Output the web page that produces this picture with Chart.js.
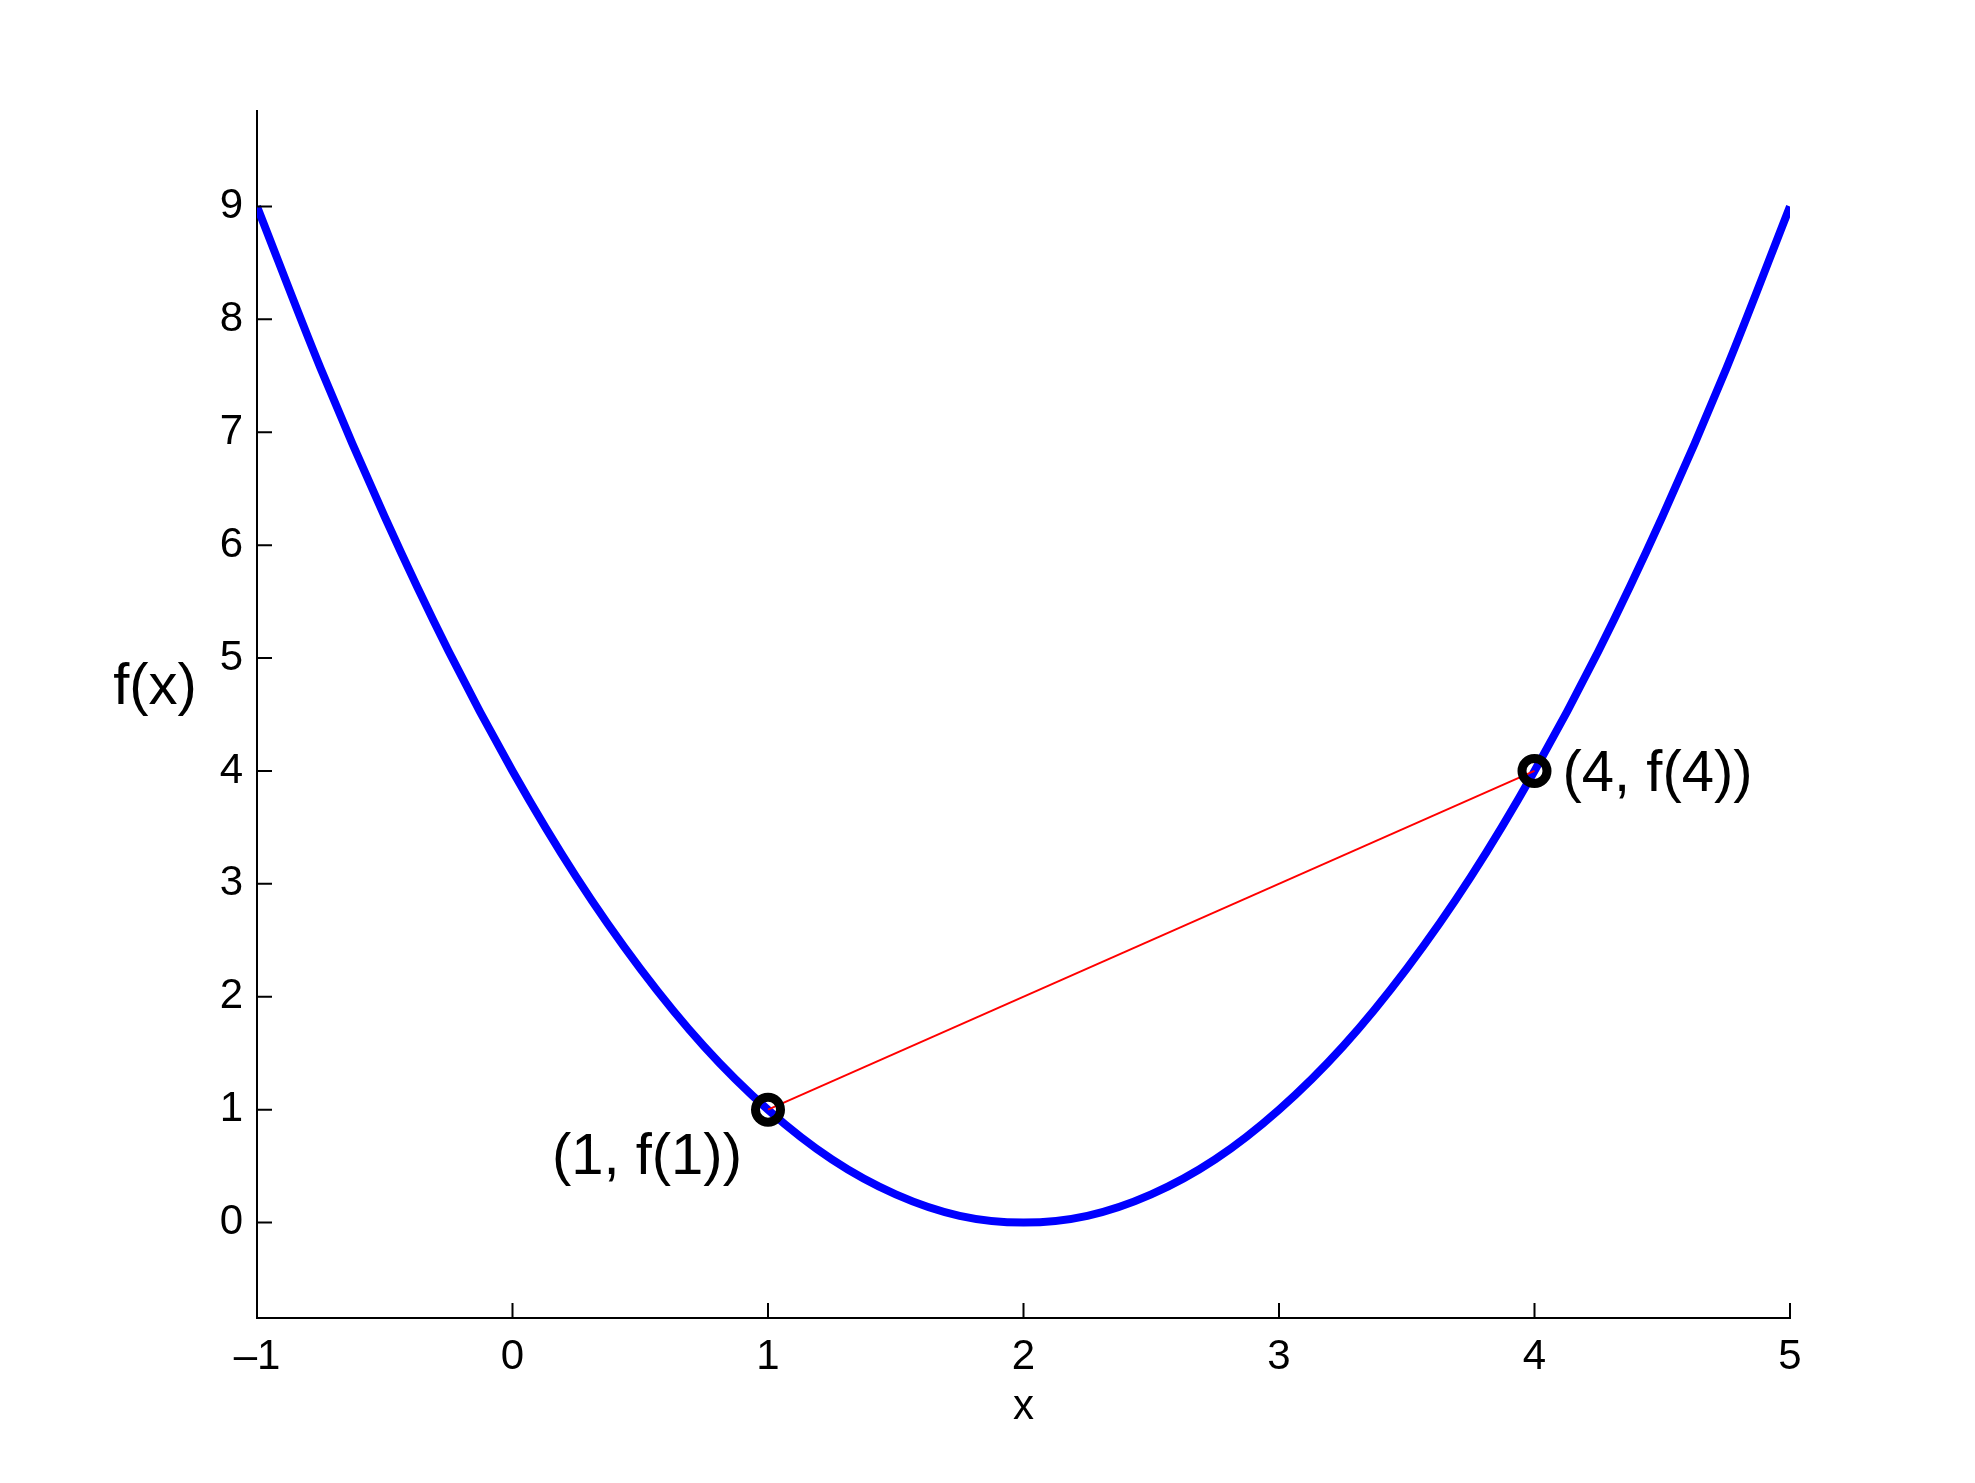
<!DOCTYPE html>
<html>
<head>
<meta charset="utf-8">
<script src="https://cdn.jsdelivr.net/npm/chart.js@4.4.0/dist/chart.umd.min.js"></script>
<style>
  body { margin: 0; background: #fff; }
  canvas { display: block; }
</style>
</head>
<body>
<canvas id="myChart" width="1975" height="1483"></canvas>
<script>
// curve
var xValues = [-1, -0.75, -0.5, -0.25, 0, 0.25, 0.5, 0.75, 1, 1.25, 1.5, 1.75, 2, 2.25, 2.5, 2.75, 3, 3.25, 3.5, 3.75, 4, 4.25, 4.5, 4.75, 5];
var yValues = [9, 7.56, 6.25, 5.06, 4, 3.06, 2.25, 1.56, 1, 0.56, 0.25, 0.06, 0, 0.06, 0.25, 0.56, 1, 1.56, 2.25, 3.06, 4, 5.06, 6.25, 7.56, 9];

// the two marked points and the chord between them
var markX = [1, 4];
var markY = [1, 4];
var markLabels = ["(1, f(1))", "(4, f(4))"];

var xTicks = [-1, 0, 1, 2, 3, 4, 5];
var yTicks = [0, 1, 2, 3, 4, 5, 6, 7, 8, 9];

var fontName = "'Liberation Sans', Arial, Helvetica, sans-serif";

var curve = [];
for (var i = 0; i < xValues.length; i++) {
  curve.push({x: xValues[i], y: yValues[i]});
}
var marks = [];
for (var j = 0; j < markX.length; j++) {
  marks.push({x: markX[j], y: markY[j]});
}

// MATLAB style inward ticks, plus the f(x) label and point labels
var extras = {
  id: "extras",
  afterDraw: function(chart) {
    var ctx = chart.ctx;
    var xs = chart.scales.x;
    var ys = chart.scales.y;
    var area = chart.chartArea;
    ctx.save();
    ctx.strokeStyle = "#000";
    ctx.lineWidth = 2;
    ctx.beginPath();
    xTicks.forEach(function(v) {
      var px = xs.getPixelForValue(v);
      ctx.moveTo(px, area.bottom);
      ctx.lineTo(px, area.bottom - 15);
    });
    yTicks.forEach(function(v) {
      var py = ys.getPixelForValue(v);
      ctx.moveTo(area.left, py);
      ctx.lineTo(area.left + 15, py);
    });
    ctx.stroke();

    ctx.fillStyle = "#000";
    ctx.font = "58px " + fontName;
    ctx.textBaseline = "middle";
    ctx.textAlign = "center";
    ctx.fillText("f(x)", 155, 688);

    // (1, f(1)) sits below left of its point, (4, f(4)) to the right
    var p1x = xs.getPixelForValue(markX[0]);
    var p1y = ys.getPixelForValue(markY[0]);
    ctx.textAlign = "right";
    ctx.fillText(markLabels[0], p1x - 26, p1y + 48);
    var p2x = xs.getPixelForValue(markX[1]);
    var p2y = ys.getPixelForValue(markY[1]);
    ctx.textAlign = "left";
    ctx.fillText(markLabels[1], p2x + 28, p2y + 4);
    ctx.restore();
  }
};

new Chart("myChart", {
  type: "scatter",
  data: {
    datasets: [{
      data: curve,
      showLine: true,
      borderColor: "#0000ff",
      borderWidth: 8,
      pointRadius: 0,
      cubicInterpolationMode: "monotone",
      order: 3
    }, {
      data: marks,
      showLine: true,
      borderColor: "#ff0000",
      borderWidth: 2,
      pointRadius: 0,
      order: 2
    }, {
      data: marks,
      showLine: false,
      pointStyle: "circle",
      pointRadius: 12.5,
      pointBorderWidth: 9,
      pointBorderColor: "#000",
      pointBackgroundColor: "rgba(0,0,0,0)",
      order: 1
    }]
  },
  options: {
    responsive: false,
    devicePixelRatio: 1,
    animation: false,
    events: [],
    layout: {padding: {top: 111, right: 185, bottom: 0, left: 0}},
    plugins: {legend: {display: false}, tooltip: {enabled: false}},
    scales: {
      x: {
        type: "linear",
        min: -1,
        max: 5,
        afterFit: function(scale) { scale.height = 165; },
        afterBuildTicks: function(scale) {
          scale.ticks = xTicks.map(function(v) { return {value: v}; });
        },
        grid: {display: false, drawTicks: false},
        border: {display: true, color: "#000", width: 2},
        ticks: {
          color: "#000",
          font: {family: fontName, size: 42},
          padding: 14,
          maxRotation: 0,
          callback: function(v) { return v < 0 ? "\u2013" + Math.abs(v) : "" + v; }
        },
        title: {
          display: true,
          text: "x",
          color: "#000",
          font: {family: fontName, size: 42},
          padding: {top: 0, bottom: 50}
        }
      },
      y: {
        type: "linear",
        min: -0.845,
        max: 9.845,
        afterFit: function(scale) { scale.width = 257; },
        afterBuildTicks: function(scale) {
          scale.ticks = yTicks.map(function(v) { return {value: v}; });
        },
        grid: {display: false, drawTicks: false},
        border: {display: true, color: "#000", width: 2},
        ticks: {
          color: "#000",
          font: {family: fontName, size: 42},
          padding: 14
        }
      }
    }
  },
  plugins: [extras]
});
</script>
</body>
</html>
